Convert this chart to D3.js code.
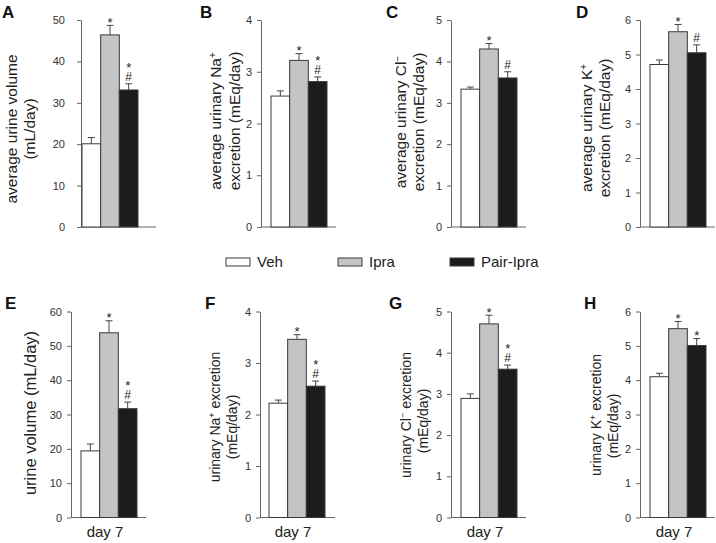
<!DOCTYPE html>
<html>
<head>
<meta charset="utf-8">
<script src="https://cdn.jsdelivr.net/npm/d3@7"></script>
<style>
  body { margin: 0; background: #fff; }
  text { font-family: "Liberation Sans", Arial, sans-serif; }
</style>
</head>
<body>
<svg id="fig" width="716" height="543"></svg>
<script>
// groups and legend
var groups = ["Veh", "Ipra", "Pair-Ipra"];
var groupFills = ["#ffffff", "#c4c4c4", "#1c1c1c"];

// top row: average over the study, bottom row: day 7
var meanA = [20.1, 46.4, 33.1], semA = [1.5, 2.3, 1.5];
var meanB = [2.53, 3.22, 2.81], semB = [0.10, 0.13, 0.09];
var meanC = [3.33, 4.30, 3.60], semC = [0.05, 0.13, 0.15];
var meanD = [4.71, 5.66, 5.05], semD = [0.13, 0.21, 0.23];
var meanE = [19.4, 53.8, 31.7], semE = [2.0, 3.5, 1.9];
var meanF = [2.22, 3.46, 2.55], semF = [0.06, 0.09, 0.10];
var meanG = [2.89, 4.70, 3.60], semG = [0.11, 0.21, 0.10];
var meanH = [4.10, 5.50, 5.01], semH = [0.10, 0.21, 0.20];

// significance marks (* vs Veh, # vs Ipra)
var sigA = ["", "*", "*#"], sigB = ["", "*", "*#"], sigC = ["", "*", "#"], sigD = ["", "*", "#"];
var sigE = ["", "*", "*#"], sigF = ["", "*", "*#"], sigG = ["", "*", "*#"], sigH = ["", "*", "*"];

// y tick labels
var ticks50 = [0, 10, 20, 30, 40, 50];
var ticks60 = [0, 10, 20, 30, 40, 50, 60];
var ticks4 = [0, 1, 2, 3, 4];
var ticks5 = [0, 1, 2, 3, 4, 5];
var ticks6 = [0, 1, 2, 3, 4, 5, 6];

var xLabel = "day 7";

var svg = d3.select("#fig");
var rows = [{top: 20, zero: 227, letterY: 18}, {top: 311.5, zero: 517.5, letterY: 309}];

var panels = [
  {id: "A", row: 0, axisX: 81, off: 1, pad: 12, lx: 2, tx: [12, 30], ty: [129, 129], fs: 15.5,
   mean: meanA, sem: semA, sig: sigA, ticks: ticks50,
   title: [[["average urine volume"]], [["(mL/day)"]]]},
  {id: "B", row: 0, axisX: 261, off: 10, pad: 5, lx: 200, tx: [216, 235], ty: [121, 121], fs: 15.5,
   mean: meanB, sem: semB, sig: sigB, ticks: ticks4,
   title: [[["average urinary Na"], ["+", 1]], [["excretion (mEq/day)"]]]},
  {id: "C", row: 0, axisX: 451, off: 10, pad: 5, lx: 386, tx: [401, 419], ty: [122, 122], fs: 15.5,
   mean: meanC, sem: semC, sig: sigC, ticks: ticks5,
   title: [[["average urinary Cl"], ["\u2212", 1]], [["excretion (mEq/day)"]]]},
  {id: "D", row: 0, axisX: 640, off: 10, pad: 5, lx: 576, tx: [587, 605], ty: [128, 128], fs: 15.5,
   mean: meanD, sem: semD, sig: sigD, ticks: ticks6,
   title: [[["average urinary K"], ["+", 1]], [["excretion (mEq/day)"]]]},
  {id: "E", row: 1, axisX: 71, off: 10, pad: 5, lx: 5, tx: [30], ty: [413], fs: 16.5,
   mean: meanE, sem: semE, sig: sigE, ticks: ticks60,
   title: [[["urine volume (mL/day)"]]]},
  {id: "F", row: 1, axisX: 260, off: 9, pad: 5, lx: 205, tx: [215, 232], ty: [417, 427], fs: 14,
   mean: meanF, sem: semF, sig: sigF, ticks: ticks4,
   title: [[["urinary Na"], ["+", 1], [" excretion"]], [["(mEq/day)"]]]},
  {id: "G", row: 1, axisX: 451, off: 10, pad: 5, lx: 389, tx: [406, 423], ty: [415, 421], fs: 14,
   mean: meanG, sem: semG, sig: sigG, ticks: ticks5,
   title: [[["urinary Cl"], ["\u2212", 1], [" excretion"]], [["(mEq/day)"]]]},
  {id: "H", row: 1, axisX: 640, off: 10, pad: 5, lx: 584, tx: [596, 613], ty: [415, 426], fs: 14,
   mean: meanH, sem: semH, sig: sigH, ticks: ticks6,
   title: [[["urinary K"], ["+", 1], [" excretion"]], [["(mEq/day)"]]]}
];

panels.forEach(function(p) {
  var r = rows[p.row];
  var g = svg.append("g");

  var y = d3.scaleLinear()
    .domain([0, d3.max(p.ticks)])
    .range([r.zero, r.top]);

  var x = d3.scaleBand()
    .domain(groups)
    .range([p.axisX + p.off, p.axisX + p.off + 56])
    .padding(0);

  // y axis
  var yAxis = d3.axisLeft(y)
    .tickValues(p.ticks)
    .tickFormat(d3.format("d"))
    .tickSize(4)
    .tickSizeOuter(0)
    .tickPadding(p.pad);
  var ax = g.append("g")
    .attr("transform", "translate(" + p.axisX + ",0)")
    .call(yAxis);
  ax.select(".domain").attr("stroke", "#666");
  ax.selectAll(".tick line").attr("stroke", "#666");
  ax.selectAll(".tick text")
    .attr("fill", "#333")
    .style("font-size", "11px")
    .style("font-family", "'Liberation Sans', Arial, sans-serif");

  // x baseline
  g.append("line")
    .attr("x1", p.axisX)
    .attr("x2", Math.min(p.axisX + 75, 716))
    .attr("y1", y(0))
    .attr("y2", y(0))
    .attr("stroke", "#666");

  var data = groups.map(function(k, i) {
    return {label: k, value: p.mean[i], err: p.sem[i], sig: p.sig[i], fill: groupFills[i]};
  });

  // error bars (upper only)
  var eb = g.selectAll(".err")
    .data(data)
    .enter()
    .append("g");
  eb.append("line")
    .attr("x1", function(d) { return x(d.label) + x.bandwidth() / 2; })
    .attr("x2", function(d) { return x(d.label) + x.bandwidth() / 2; })
    .attr("y1", function(d) { return y(d.value); })
    .attr("y2", function(d) { return y(d.value + d.err); })
    .attr("stroke", "#444");
  eb.append("line")
    .attr("x1", function(d) { return x(d.label) + x.bandwidth() / 2 - 3.5; })
    .attr("x2", function(d) { return x(d.label) + x.bandwidth() / 2 + 3.5; })
    .attr("y1", function(d) { return y(d.value + d.err); })
    .attr("y2", function(d) { return y(d.value + d.err); })
    .attr("stroke", "#444");

  g.selectAll(".bar")
    .data(data)
    .enter()
    .append("rect")
    .attr("class", "bar")
    .attr("x", function(d) { return x(d.label); })
    .attr("y", function(d) { return y(d.value); })
    .attr("width", x.bandwidth())
    .attr("height", function(d) { return y(0) - y(d.value); })
    .attr("fill", function(d) { return d.fill; })
    .attr("stroke", "#3a3a3a")
    .attr("stroke-width", 1);

  // significance marks: one text per bar, "*" stacked over "#"
  data.forEach(function(d) {
    if (!d.sig) return;
    var cx = x(d.label) + x.bandwidth() / 2;
    var top = y(d.value + d.err);
    var hasHash = d.sig.indexOf("#") >= 0;
    var hasStar = d.sig.indexOf("*") >= 0;
    var t = g.append("text")
      .attr("text-anchor", "middle")
      .attr("fill", "#222");
    if (hasHash && hasStar) {
      t.attr("y", top - 3);
      t.append("tspan").attr("x", cx).attr("dy", "-9").style("font-size", "13px").text("*");
      t.append("tspan").attr("x", cx).attr("dy", "9").style("font-size", "12px").text("#");
    } else if (hasHash) {
      t.attr("x", cx).attr("y", top - 3).style("font-size", "12px").text("#");
    } else {
      t.attr("x", cx).attr("y", top + 1.5).style("font-size", "13px").text("*");
    }
  });

  // panel letter
  g.append("text")
    .attr("x", p.lx)
    .attr("y", r.letterY)
    .attr("fill", "#111")
    .style("font-size", "17px")
    .style("font-weight", "bold")
    .text(p.id);

  // y title
  p.title.forEach(function(line, i) {
    var t = g.append("text")
      .attr("transform", "translate(" + p.tx[i] + "," + p.ty[i] + ") rotate(-90)")
      .attr("text-anchor", "middle")
      .attr("dy", "0.35em")
      .attr("fill", "#222")
      .style("font-size", p.fs + "px");
    line.forEach(function(part) {
      var s = t.append("tspan").text(part[0]);
      if (part[1]) {
        s.attr("baseline-shift", "super").style("font-size", (p.fs * 0.65) + "px");
      }
    });
  });

  // x label for day 7 panels
  if (p.row === 1) {
    g.append("text")
      .attr("x", x.range()[0] + 28 - 4)
      .attr("y", 537)
      .attr("text-anchor", "middle")
      .attr("fill", "#222")
      .style("font-size", "15px")
      .text(xLabel);
  }
});

// legend
var legendX = d3.scalePoint().domain(groups).range([226, 450]);
var leg = svg.selectAll(".legend")
  .data(groups)
  .enter()
  .append("g")
  .attr("transform", function(d) { return "translate(" + legendX(d) + ",258)"; });
leg.append("rect")
  .attr("width", 24)
  .attr("height", 8)
  .attr("fill", function(d, i) { return groupFills[i]; })
  .attr("stroke", "#3a3a3a");
leg.append("text")
  .attr("x", 31)
  .attr("y", 9)
  .attr("fill", "#222")
  .style("font-size", "15px")
  .text(function(d) { return d; });
</script>
</body>
</html>
